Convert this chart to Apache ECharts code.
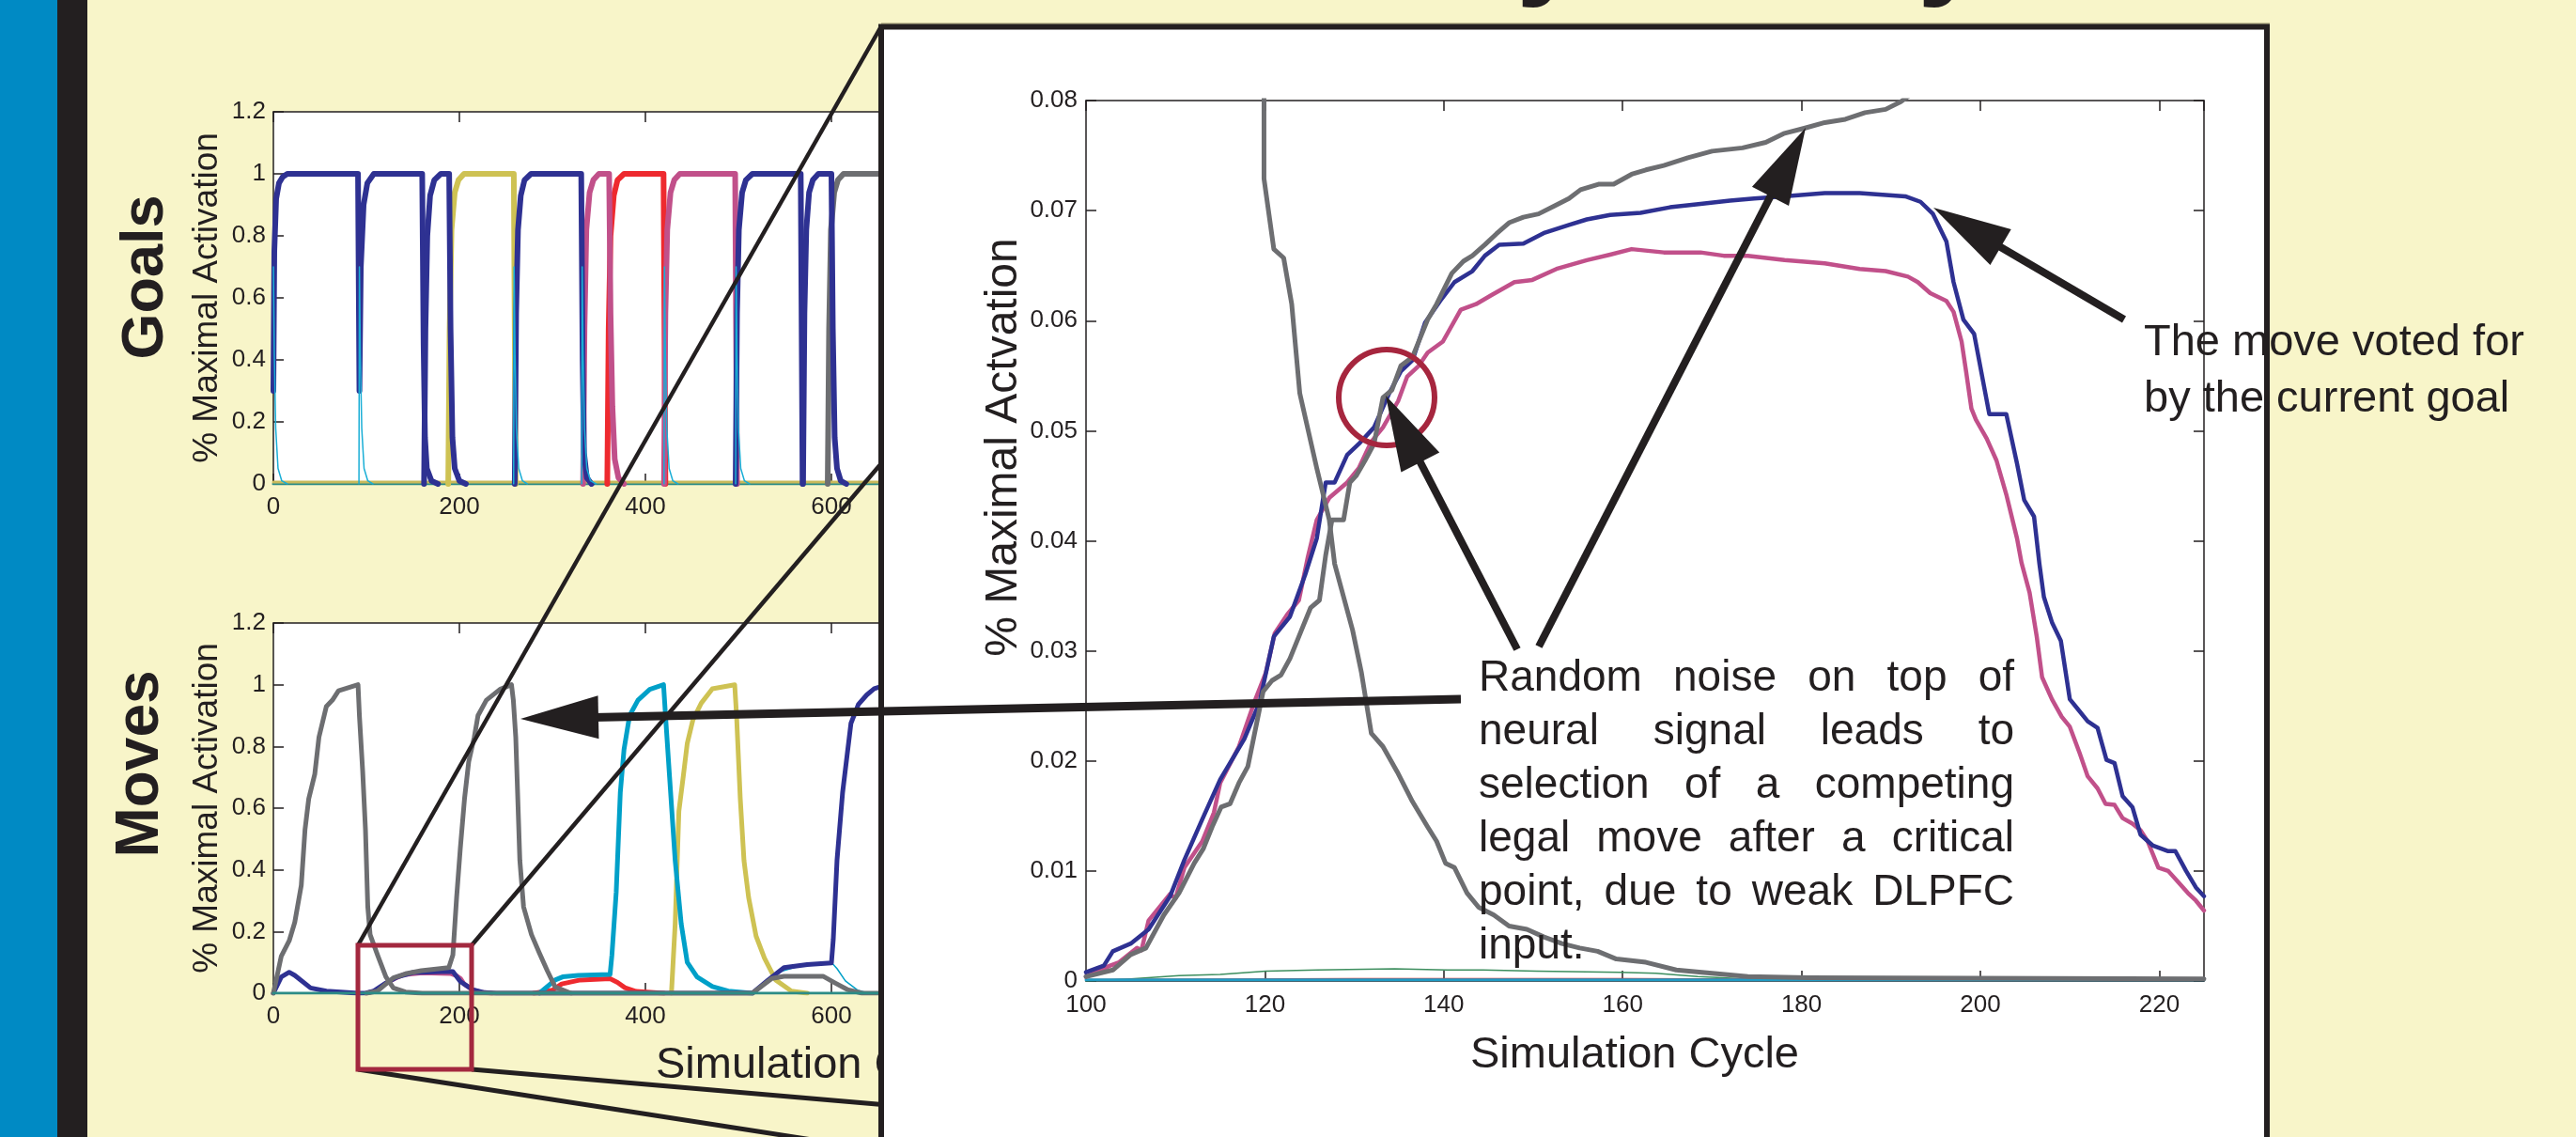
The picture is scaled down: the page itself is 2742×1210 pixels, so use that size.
<!DOCTYPE html>
<html><head><meta charset="utf-8">
<script src="https://cdn.jsdelivr.net/npm/echarts@6.0.0/dist/echarts.min.js"></script>
<style>
html,body{margin:0;padding:0;width:2742px;height:1210px;overflow:hidden;background:#F8F5C9}
#base,#inset{position:absolute;left:0;top:0;width:2742px;height:1210px}
</style></head>
<body><div id="base"></div><div id="inset"></div>
<script>
// ---------------- DATA ----------------
// Goals panel (x: simulation cycle, y: % maximal activation)
const goalsNavyPulses = [
  [[0,0.3],[1,0.75],[3,0.92],[6,0.97],[10,0.99],[15,1],[91,1],[92.5,0.3],[94,0.7],[97,0.9],[101,0.97],[108,1],[160,1],[161.5,0.45],[163,0.15],[165,0.05],[170,0.01],[177,0]],
  [[162,0],[163.5,0.5],[165.5,0.8],[168.5,0.93],[173,0.98],[180,1],[189,1],[190.5,0.5],[192.5,0.15],[195,0.05],[200,0.01],[207,0]],
  [[259.5,0],[261,0.55],[263,0.82],[266,0.93],[270,0.98],[277,1],[331,1],[332.5,0.4],[334,0.1],[337,0.02],[342,0]],
  [[497,0],[498.5,0.55],[500.5,0.82],[504,0.94],[508,0.98],[515,1],[567,1],[568,0.5],[569,0]],
  [[569.5,0],[571,0.55],[573,0.82],[576,0.94],[580,0.98],[586,1],[600,1],[601.5,0.5],[603.5,0.15],[606,0.05],[610,0.01],[616,0]]
];
const goalsYellowPulses = [
  [[188,0],[189.5,0.5],[191.5,0.82],[195,0.94],[199,0.98],[205,1],[258.5,1],[259.5,0.5],[260.5,0]]
];
const goalsPinkPulses = [
  [[333,0],[334.5,0.5],[336.5,0.82],[340,0.94],[344,0.98],[350,1],[361,1],[362.5,0.55],[364.5,0.25],[367,0.08],[371,0.02],[377,0]],
  [[420,0],[421.5,0.55],[423.5,0.82],[427,0.94],[431,0.98],[437,1],[496.5,1],[497.5,0.5],[498.5,0]]
];
const goalsRedPulses = [
  [[359,0],[360.5,0.5],[362.5,0.8],[366,0.93],[370,0.98],[377,1],[419.5,1],[420.5,0.5],[421.5,0]]
];
const goalsGrayPulses = [
  [[596,0],[597.5,0.5],[599.5,0.82],[603,0.94],[607,0.98],[613,1],[720,1]]
];
const goalsCyanSpikes = [
  [[0,0.7],[1,0.42],[2.5,0.18],[5,0.05],[9,0.01],[15,0]],
  [[92,0],[92.5,0.7],[93.5,0.42],[95,0.18],[97.5,0.05],[101.5,0.01],[107,0]],
  [[258.3,0],[258.8,0.7],[259.8,0.42],[261.3,0.18],[263.8,0.05],[267.8,0.01],[273,0]],
  [[331.5,0],[332,0.7],[333,0.42],[334.5,0.18],[337,0.05],[341,0.01],[347,0]],
  [[420,0],[420.5,0.7],[421.5,0.42],[423,0.18],[425.5,0.05],[429.5,0.01],[435,0]],
  [[497,0],[497.5,0.7],[498.5,0.42],[500,0.18],[502.5,0.05],[506.5,0.01],[512,0]]
];
const goalsBaseOlive = [[0,0.006],[1200,0.006]];
const goalsBaseTeal = [[0,0],[1200,0]];

// Moves panel
const movesGrayA = [[0,0],[8.5,0.12],[17,0.17],[23,0.23],[30,0.35],[34,0.53],[38,0.63],[44.5,0.71],[49,0.83],[57,0.93],[63.5,0.95],[70,0.98],[91,1],[92.5,0.9],[96,0.72],[99,0.53],[101.5,0.28],[104,0.19],[112,0.124],[121,0.053],[129,0.017],[142,0.004],[160,0],[515,0],[536,0.048],[549,0.055],[591,0.055],[604,0.033],[617,0.012],[633,0],[720,0]];
const movesGrayB = [[100,0],[112,0.007],[121,0.03],[129,0.05],[142,0.063],[159,0.073],[188.6,0.083],[193,0.124],[197,0.31],[201,0.47],[205.5,0.63],[210,0.75],[216,0.83],[220,0.9],[229,0.95],[243.6,0.985],[256,1],[258,0.95],[260.6,0.83],[265,0.43],[269,0.28],[277.5,0.19],[286,0.13],[294.5,0.073],[303,0.02],[320,0]];
const movesNavy = [[0,0],[8.5,0.053],[17,0.068],[23,0.058],[40,0.017],[57,0.007],[91,0],[100,0.001],[108,0.007],[121,0.033],[133.5,0.053],[150,0.067],[188.6,0.071],[193,0.07],[201,0.038],[214,0.012],[227,0.002],[240,0],[515,0],[532,0.043],[549,0.083],[574,0.093],[600,0.098],[602,0.175],[606,0.43],[612,0.65],[621,0.875],[629,0.936],[638,0.967],[646,0.987],[660,1],[720,1]];
const movesPink = [[100,0],[110,0.008],[120,0.03],[130,0.047],[140,0.06],[160,0.066],[190,0.064],[196,0.058],[201,0.048],[205,0.03],[215,0.01],[225,0.002],[235,0]];
const movesCyan = [[286,0],[303,0.043],[311,0.053],[328,0.058],[362,0.061],[364,0.124],[368.6,0.327],[373,0.65],[377,0.79],[383,0.9],[392,0.95],[404.7,0.985],[419.5,1],[421.6,0.9],[426,0.7],[432,0.43],[438.5,0.225],[445,0.1],[455.5,0.053],[472,0.022],[489,0.007],[515,0]];
const movesCyanThin = [[515,0],[530,0.04],[545,0.07],[570,0.092],[600,0.1],[606,0.08],[615,0.04],[628,0.01],[640,0]];
const movesRed = [[280,0],[300,0.01],[310,0.03],[330,0.043],[362,0.047],[370,0.035],[378,0.018],[390,0.006],[420,0]];
const movesYellow = [[428,0],[432,0.225],[436,0.59],[441,0.71],[445,0.81],[451,0.885],[460,0.94],[472,0.987],[496,1],[498,0.9],[502,0.63],[506,0.43],[511,0.31],[519,0.185],[528,0.114],[540,0.043],[557,0.007],[574,0]];
const movesBase = [[0,0],[1200,0]];

// Zoomed inset (cycles 100-225)
const insetNavy = [[100,0.0008],[102,0.0014],[103,0.0027],[105,0.0034],[107,0.0047],[109.4,0.0077],[111,0.011],[113,0.0147],[115,0.0183],[117.7,0.022],[119.4,0.0253],[121,0.0313],[122.8,0.0331],[124.5,0.0369],[125.8,0.0402],[126.8,0.0453],[127.8,0.0453],[129.2,0.0478],[130.5,0.0488],[132.2,0.0503],[133.9,0.0534],[135.2,0.0554],[136.5,0.0564],[137.9,0.0598],[139.6,0.0618],[141.2,0.0635],[143.2,0.0645],[144.6,0.0659],[146.2,0.0669],[148.9,0.067],[151.3,0.068],[154,0.0687],[156,0.0692],[158.6,0.0696],[162,0.0698],[165.3,0.0703],[168.7,0.0706],[172,0.0709],[174.7,0.0711],[178,0.0713],[182.6,0.0716],[186.5,0.0716],[191.6,0.0713],[193.3,0.0708],[194.7,0.0697],[196.2,0.0672],[197,0.0635],[198.1,0.0601],[199.3,0.0588],[201,0.0515],[202.9,0.0515],[204.1,0.047],[204.9,0.0437],[206,0.0422],[206.6,0.0379],[207.1,0.0349],[208,0.0326],[209,0.0309],[210,0.0256],[210.8,0.0248],[212,0.0236],[213.1,0.023],[214.1,0.0201],[215,0.0198],[215.9,0.0168],[217,0.0158],[217.9,0.0133],[219.3,0.0123],[221,0.0118],[221.8,0.0118],[223,0.01],[224.1,0.0085],[225,0.0077]];
const insetPink = [[100,0.0004],[102.7,0.0014],[103.7,0.0017],[105.7,0.003],[106.2,0.0028],[107,0.0055],[109.4,0.0079],[110,0.0075],[111,0.0103],[113,0.0127],[114.3,0.0153],[115,0.018],[117.1,0.0213],[118.8,0.0253],[120.1,0.028],[121.1,0.0316],[122.5,0.0333],[123.8,0.0346],[124.8,0.0385],[125.8,0.0419],[127.2,0.0439],[129.2,0.0453],[130.5,0.0466],[131.9,0.049],[133.2,0.0503],[134.9,0.0527],[135.9,0.0549],[137.2,0.0559],[138.2,0.0571],[139.9,0.0581],[141.9,0.061],[143.6,0.0615],[145.3,0.0623],[147.9,0.0635],[149.9,0.0637],[152.6,0.0647],[156,0.0655],[158.6,0.066],[161,0.0665],[164.6,0.0662],[168.7,0.0662],[171.3,0.0659],[174,0.0659],[178.1,0.0655],[182.6,0.0652],[186.5,0.0647],[189.4,0.0645],[191.9,0.064],[193,0.0635],[194.4,0.0625],[196.2,0.0618],[197,0.0608],[197.9,0.0581],[198.4,0.0554],[199,0.052],[199.5,0.051],[200.7,0.0493],[201.8,0.0473],[202.9,0.0442],[204.1,0.0402],[204.6,0.038],[205.5,0.0353],[206.3,0.0313],[206.9,0.0276],[208,0.0256],[209.1,0.024],[210,0.0231],[211.1,0.0207],[212,0.0186],[213.1,0.0175],[214,0.0161],[215,0.016],[215.9,0.0148],[217,0.0143],[217.9,0.0137],[218.7,0.0127],[219.9,0.0103],[221,0.01],[222.1,0.009],[223.2,0.008],[224.1,0.0073],[225,0.0064]];
const insetGrayRising = [[100,0.0004],[103,0.001],[105,0.0024],[106.7,0.003],[108.7,0.006],[110.4,0.008],[112.1,0.0107],[113.1,0.012],[114.1,0.014],[115.1,0.0158],[116.1,0.0161],[117.1,0.018],[118.1,0.0195],[118.8,0.0223],[119.8,0.0263],[120.8,0.0273],[121.8,0.0278],[122.8,0.0293],[124.1,0.0319],[125.1,0.0339],[126.1,0.0346],[126.8,0.0387],[127.5,0.0419],[128.8,0.0419],[129.5,0.0453],[130.2,0.0459],[131.2,0.0473],[132.2,0.0488],[133.2,0.053],[134.2,0.0537],[135.2,0.0559],[136.5,0.0567],[138.2,0.0601],[139.2,0.0615],[140.9,0.0643],[142.2,0.0654],[143.2,0.0659],[144.6,0.0669],[145.9,0.0679],[147.3,0.0689],[148.9,0.0694],[150.6,0.0697],[152.3,0.0704],[154,0.0711],[155.3,0.0719],[157.3,0.0724],[159,0.0724],[161,0.0733],[162.6,0.0737],[164.6,0.0741],[167.3,0.0748],[170,0.0754],[173.4,0.0757],[176,0.0762],[178,0.077],[180.4,0.0775],[182.6,0.078],[184.9,0.0783],[187.1,0.0789],[189.4,0.0792],[191.1,0.0799],[193,0.081]];
const insetGrayFalling = [[119.9,0.1],[119.9,0.0729],[121,0.0665],[122.1,0.0657],[123,0.0615],[123.9,0.0534],[125.8,0.0466],[127.2,0.0419],[127.8,0.0379],[129.8,0.0319],[130.8,0.028],[131.9,0.0225],[133.2,0.0213],[134.8,0.019],[136.5,0.0163],[138.2,0.014],[139.2,0.0127],[140.2,0.0107],[141.2,0.0103],[142.6,0.008],[143.9,0.0067],[145.6,0.006],[147.3,0.005],[149.3,0.0047],[151.2,0.004],[153.2,0.0034],[155.2,0.003],[157.2,0.0027],[159.3,0.002],[162.6,0.0017],[166,0.001],[170,0.0007],[174,0.0004],[180.7,0.0003],[225,0.0002]];
const insetGreen = [[100,0],[105,0.0002],[110.4,0.0005],[115,0.0006],[120.1,0.0009],[125.8,0.001],[134.5,0.0011],[140.4,0.001],[144.4,0.001],[150.4,0.0009],[159.7,0.0008],[163.7,0.0007],[168.4,0.0004],[173.7,0.0002],[180,0.0001],[225,0.0001]];
const insetRed = [[100,0.0001],[130,0.0002],[160,0.0002],[190,0.0001],[225,0.0002]];
const insetCyan = [[100,0.0001],[225,0.0001]];

// Text
const noiseLines = ['Random noise on top of', 'neural signal leads to', 'selection of a competing', 'legal move after a critical', 'point, due to weak DLPFC', 'input.'];
const goalLines = ['The move voted for', 'by the current goal'];

// ---------------- STYLE ----------------
const FONT = "'Liberation Sans', Arial, Helvetica, sans-serif";
const INK = '#231F20';
const C = {navy:'#2E3192', gray:'#6D6E71', cyan:'#00A0C8', yellow:'#CEC253', pink:'#C1508A', red:'#EE2A2F', green:'#3D8E5E', teal:'#2C8C86', olive:'#C9B95A'};

function ls(data, color, width, xi, yi, z) {
  return {type:'line', data, xAxisIndex:xi, yAxisIndex:yi, showSymbol:false, symbol:'none', clip:true,
    lineStyle:{color, width, cap:'round', join:'round'}, itemStyle:{color}, silent:true, animation:false, z:z||2};
}
function axisX(grid, pos, withLabels, extra) {
  return Object.assign({type:'value', gridIndex:grid, position:pos, min:0, max:1200, interval:200,
    axisLine:{show:true, onZero:false, lineStyle:{color:INK, width:1.5}},
    axisTick:{show:true, inside:true, length:11, lineStyle:{color:INK, width:1.5}},
    axisLabel:{show:withLabels, fontSize:26, color:INK, margin:12, fontFamily:FONT},
    splitLine:{show:false}}, extra||{});
}
function axisY(grid, extra) {
  return Object.assign({type:'value', gridIndex:grid, position:'left', min:0, max:1.2, interval:0.2,
    axisLine:{show:true, onZero:false, lineStyle:{color:INK, width:1.5}},
    axisTick:{show:true, inside:true, length:11, lineStyle:{color:INK, width:1.5}},
    axisLabel:{show:true, fontSize:26, color:INK, margin:8, fontFamily:FONT},
    splitLine:{show:false},
    name:'% Maximal Activation', nameLocation:'middle', nameGap:52,
    nameTextStyle:{fontSize:37, color:INK, fontFamily:FONT}}, extra||{});
}

// ---------------- BASE LAYER ----------------
const base = echarts.init(document.getElementById('base'), null, {renderer:'canvas'});
const baseSeries = [];
baseSeries.push(ls(goalsBaseTeal, C.teal, 3, 0, 0));
baseSeries.push(ls(goalsBaseOlive, C.olive, 3, 0, 0));
goalsYellowPulses.forEach(d => baseSeries.push(ls(d, C.yellow, 6, 0, 0)));
goalsRedPulses.forEach(d => baseSeries.push(ls(d, C.red, 6, 0, 0)));
goalsPinkPulses.forEach(d => baseSeries.push(ls(d, C.pink, 6, 0, 0)));
goalsGrayPulses.forEach(d => baseSeries.push(ls(d, C.gray, 6, 0, 0)));
goalsNavyPulses.forEach(d => baseSeries.push(ls(d, C.navy, 6, 0, 0)));
goalsCyanSpikes.forEach(d => baseSeries.push(ls(d, '#19AED6', 1.5, 0, 0)));
baseSeries.push(ls(movesRed, C.red, 5, 2, 1));
baseSeries.push(ls(movesPink, C.pink, 5, 2, 1));
baseSeries.push(ls(movesCyanThin, C.cyan, 1.5, 2, 1));
baseSeries.push(ls(movesYellow, C.yellow, 5, 2, 1));
baseSeries.push(ls(movesCyan, C.cyan, 5, 2, 1));
baseSeries.push(ls(movesNavy, C.navy, 5, 2, 1));
baseSeries.push(ls(movesGrayA, C.gray, 5, 2, 1));
baseSeries.push(ls(movesGrayB, C.gray, 5, 2, 1));
baseSeries.push(ls(movesBase, C.teal, 3, 2, 1));

const titleFont = 'bold 130px ' + FONT;
const baseGraphic = [
  {type:'rect', shape:{x:0, y:0, width:61, height:1210}, style:{fill:'#008AC4'}, z:0},
  {type:'rect', shape:{x:61, y:0, width:32, height:1210}, style:{fill:INK}, z:0},
  {type:'text', x:156, y:295, rotation:Math.PI/2, z:10,
    style:{text:'Goals', font:'bold 63px ' + FONT, fill:INK, align:'center', verticalAlign:'middle'}},
  {type:'text', x:150, y:813, rotation:Math.PI/2, z:10,
    style:{text:'Moves', font:'bold 64px ' + FONT, fill:INK, align:'center', verticalAlign:'middle'}},
  // bottoms of the cut-off poster title
  {type:'text', x:1614, y:-10 - 0.3465 * 130, z:10, style:{text:'y', font:titleFont, fill:INK, align:'left', verticalAlign:'middle'}},
  {type:'text', x:2041, y:-10 - 0.3465 * 130, z:10, style:{text:'y', font:titleFont, fill:INK, align:'left', verticalAlign:'middle'}},
  {type:'line', shape:{x1:938, y1:25, x2:2416, y2:25}, style:{stroke:'#B2AD84', lineWidth:1.5}, z:10},
  {type:'line', shape:{x1:381, y1:1006, x2:938, y2:28}, style:{stroke:INK, lineWidth:4.5}, z:100},
  {type:'line', shape:{x1:502, y1:1006, x2:945, y2:485}, style:{stroke:INK, lineWidth:4.5}, z:100},
  {type:'line', shape:{x1:381, y1:1138, x2:1000, y2:1234}, style:{stroke:INK, lineWidth:5}, z:100},
  {type:'line', shape:{x1:502, y1:1138, x2:945, y2:1176}, style:{stroke:INK, lineWidth:5}, z:100},
  {type:'rect', shape:{x:381, y:1006, width:121, height:132}, style:{fill:'none', stroke:'#A3283F', lineWidth:5}, z:101}
];

base.setOption({
  animation:false,
  backgroundColor:'#F8F5C9',
  textStyle:{fontFamily:FONT},
  grid:[
    {left:291, top:119, width:1188, height:396, show:true, backgroundColor:'#FFFFFF', borderWidth:0},
    {left:291, top:663, width:1188, height:394, show:true, backgroundColor:'#FFFFFF', borderWidth:0}
  ],
  xAxis:[
    axisX(0, 'bottom', true),
    axisX(0, 'top', false),
    axisX(1, 'bottom', true, {name:'Simulation Cycle', nameLocation:'middle', nameGap:54,
      nameTextStyle:{fontSize:47, color:INK, fontFamily:FONT, padding:[0,24,0,0]}}),
    axisX(1, 'top', false)
  ],
  yAxis:[ axisY(0), axisY(1) ],
  series: baseSeries,
  graphic: baseGraphic
});

// ---------------- INSET LAYER ----------------
const measureCtx = document.createElement('canvas').getContext('2d');
function textWidth(s, font) { measureCtx.font = font; return measureCtx.measureText(s).width; }
function justifiedText(lines, left, right, firstBaseline, lineGap, fontSize) {
  const font = fontSize + 'px ' + FONT;
  const els = [];
  lines.forEach((ln, i) => {
    const words = ln.split(' ');
    const yMid = firstBaseline + i * lineGap - 0.3465 * fontSize;
    const isLast = i === lines.length - 1;
    let gap = textWidth(' ', font);
    if (!isLast && words.length > 1) {
      const w = words.reduce((s, wd) => s + textWidth(wd, font), 0);
      gap = (right - left - w) / (words.length - 1);
    }
    let x = left;
    words.forEach(wd => {
      els.push({type:'text', x:x, y:yMid, z:100, style:{text:wd, font:font, fill:INK, align:'left', verticalAlign:'middle'}});
      x += textWidth(wd, font) + gap;
    });
  });
  return els;
}
function plainLines(lines, left, firstBaseline, lineGap, fontSize) {
  const font = fontSize + 'px ' + FONT;
  return lines.map((ln, i) => ({type:'text', x:left, y:firstBaseline + i * lineGap - 0.3465 * fontSize, z:100,
    style:{text:ln, font:font, fill:INK, align:'left', verticalAlign:'middle'}}));
}
function arrow(tail, tip, headLen, headHalf, shaftW) {
  const dx = tip[0] - tail[0], dy = tip[1] - tail[1];
  const L = Math.hypot(dx, dy);
  const ux = dx / L, uy = dy / L, nx = -uy, ny = ux;
  const bx = tip[0] - ux * headLen, by = tip[1] - uy * headLen;
  return [
    {type:'line', z:100, shape:{x1:tail[0], y1:tail[1], x2:bx + ux * 6, y2:by + uy * 6}, style:{stroke:INK, lineWidth:shaftW}},
    {type:'polygon', z:100, shape:{points:[tip, [bx + nx * headHalf, by + ny * headHalf], [bx - nx * headHalf, by - ny * headHalf]]}, style:{fill:INK}}
  ];
}

const insetGraphic = [
  {type:'rect', z:1, shape:{x:938, y:28.5, width:1475, height:1400}, style:{fill:'#FFFFFF', stroke:INK, lineWidth:6}},
  {type:'text', x:1069, y:476, rotation:Math.PI/2, z:100,
    style:{text:'% Maximal Actvation', font:'48px ' + FONT, fill:INK, align:'center', verticalAlign:'middle'}},
  {type:'circle', z:100, shape:{cx:1476, cy:423, r:51}, style:{fill:'none', stroke:'#A6263E', lineWidth:6}}
]
  .concat(arrow([1555,744], [554,765], 83, 23, 9))
  .concat(arrow([1615,691], [1475,421], 80, 23, 8))
  .concat(arrow([1638,688], [1922,136], 82, 22, 8))
  .concat(arrow([2261,340], [2058,221], 83, 22, 8))
  .concat(justifiedText(noiseLines, 1574, 2144, 738, 57, 46))
  .concat(plainLines(goalLines, 2282, 381, 60, 47));

const inset = echarts.init(document.getElementById('inset'), null, {renderer:'canvas'});
const insetAxisCommon = {
  axisLine:{show:true, onZero:false, lineStyle:{color:INK, width:1.5}},
  axisTick:{show:true, inside:true, length:11, lineStyle:{color:INK, width:1.5}},
  splitLine:{show:false}, z:5
};
inset.setOption({
  animation:false,
  backgroundColor:'transparent',
  textStyle:{fontFamily:FONT},
  grid:[{left:1156, top:107, width:1190, height:937, show:false}],
  xAxis:[
    Object.assign({type:'value', position:'bottom', min:100, max:225, interval:20,
      axisLabel:{fontSize:26, color:INK, margin:13, fontFamily:FONT, showMaxLabel:false},
      name:'Simulation Cycle', nameLocation:'middle', nameGap:56,
      nameTextStyle:{fontSize:47, color:INK, fontFamily:FONT, padding:[0,22,0,0]}}, insetAxisCommon),
    Object.assign({type:'value', position:'top', min:100, max:225, interval:20, axisLabel:{show:false}}, insetAxisCommon)
  ],
  yAxis:[
    Object.assign({type:'value', position:'left', min:0, max:0.08, interval:0.01,
      axisLabel:{fontSize:26, color:INK, margin:9, fontFamily:FONT}}, insetAxisCommon),
    Object.assign({type:'value', position:'right', min:0, max:0.08, interval:0.01, axisLabel:{show:false}}, insetAxisCommon)
  ],
  series:[
    ls(insetGreen, C.green, 1.5, 0, 0, 6),
    ls(insetRed, C.red, 2, 0, 0, 6),
    ls(insetCyan, '#1F9BC4', 3, 0, 0, 6),
    ls(insetPink, C.pink, 4.5, 0, 0, 6),
    ls(insetNavy, C.navy, 4.5, 0, 0, 6),
    ls(insetGrayFalling, C.gray, 5, 0, 0, 6),
    ls(insetGrayRising, C.gray, 5, 0, 0, 6)
  ],
  graphic: insetGraphic
});
</script>
</body></html>
